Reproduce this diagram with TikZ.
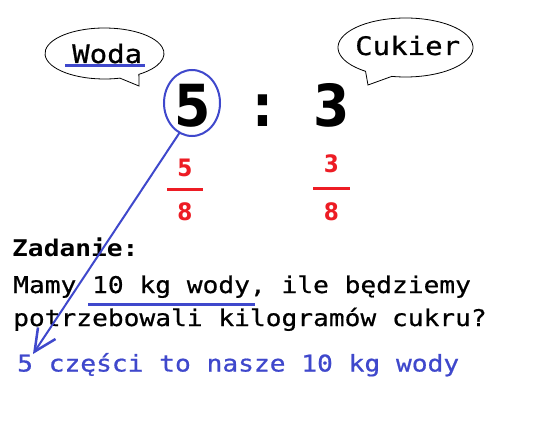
\documentclass[tikz,border=0pt]{standalone}
\usepackage{fontspec}
\usetikzlibrary{arrows.meta,shapes.geometric,calc}
\newfontfamily\monof[FakeStretch=1.14,FakeBold=0.7]{DejaVu Sans Mono}
\newfontfamily\monobf[FakeStretch=1.14]{DejaVu Sans Mono Bold}
\newfontfamily\digitf[FakeStretch=0.9]{DejaVu Sans}
\definecolor{paintblue}{RGB}{63,72,204}
\definecolor{paintred}{RGB}{237,28,36}
\begin{document}
\begin{tikzpicture}[x=1pt,y=-1pt,
  txt/.style={anchor=base west,inner sep=0pt,font={\monof\fontsize{23}{23}\selectfont}},
  bubtxt/.style={anchor=base west,inner sep=0pt,font={\monof\fontsize{25.5}{25.5}\selectfont}},
  bigdig/.style={anchor=base,inner sep=0pt,font={\digitf\bfseries\fontsize{58}{58}\selectfont}},
  fracdig/.style={anchor=base,inner sep=0pt,text=paintred,font={\digitf\bfseries\fontsize{24}{24}\selectfont}},
  fracbar/.style={draw=paintred,line width=3pt},
  bubble/.style={draw=black,line width=0.8pt},
  uline/.style={draw=paintblue,line width=3pt},
  ring/.style={ellipse,draw=paintblue,line width=2pt,minimum width=56pt,minimum height=66pt,inner sep=0pt},
  pointer/.style={draw=paintblue,line width=2pt,line cap=round,-{Straight Barb[length=22pt,width=21pt,line width=2.5pt]}}
]
\path[use as bounding box,fill=white] (0,0) rectangle (550,436);

% speech bubbles
\coordinate (wc) at (104.5,53.5);
\draw[bubble] (wc) ++(75:59.5 and 25.5) coordinate (wstart)
  arc[start angle=75,end angle=414.7,x radius=59.5,y radius=25.5]
  -- (139,86) -- cycle;
\coordinate (cc) at (405.5,47.5);
\draw[bubble] (cc) ++(126.3:67.5 and 29.5) coordinate (cstart)
  arc[start angle=126.3,end angle=461.7,x radius=67.5,y radius=29.5]
  -- (368,85) -- cycle;

\node[bubtxt] (woda) at (72,63) {Woda};
\node[bubtxt] (cukier) at (355,55) {Cukier};
\draw[uline] ($(woda.base west)+(-7,3)$) -- ($(woda.base east)+(2.5,3)$);

% ratio
\node[bigdig] (d5) at (192.5,127) {5};
\node[bigdig] (colon) at (262.5,127) {:};
\node[bigdig] (d3) at (332,127) {3};
\node[ring] (five) at (192,103) {};

% fractions
\node[fracdig] (n5) at (185,177) {5};
\node[fracdig] (den5) at (185,221) {8};
\draw[fracbar] (167,190) -- (203,190);
\node[fracdig] (n3) at (331.5,173) {3};
\node[fracdig] (den3) at (331.5,220) {8};
\draw[fracbar] (313,189) -- (350,189);

% task text
\node[txt,font={\monobf\fontsize{23}{23}\selectfont}] (zad) at (12,257) {Zadanie:};
\node[txt] (mamy) at (13,293) {Mamy 10 kg wody, ile będziemy};
\node[txt] (potrz) at (13,326) {potrzebowali kilogramów cukru?};
\node[txt,text=paintblue] (ans) at (17,371.5) {5 części to nasze 10 kg wody};
\draw[uline] ($(mamy.base west)+(75,11)$) -- ($(mamy.base west)+(242,11)$);

% arrow
\draw[pointer] (five.247) -- ($(ans.base west)+(16,-17.5)$);
\end{tikzpicture}
\end{document}
